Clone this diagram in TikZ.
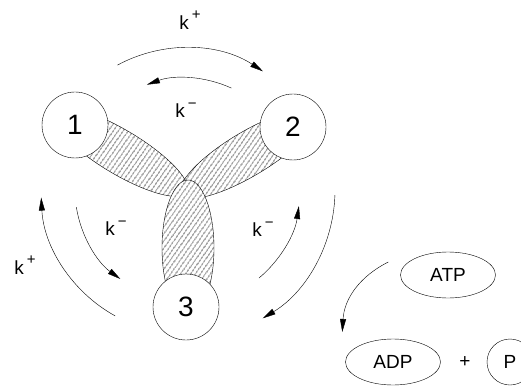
\documentclass[tikz,border=0pt]{standalone}
\usepackage{fontspec}
\setmainfont{Liberation Sans}
\usetikzlibrary{arrows.meta,patterns.meta,shapes.geometric}

% rate constant with a raised sign
\newcommand{\rate}[1]{k\,\raisebox{0.5em}{\fontsize{15}{15}\selectfont #1}}

\begin{document}
\begin{tikzpicture}[x=1pt, y=1pt,
  every node/.style={font=\fontsize{19}{21}\selectfont},
  site/.style={draw, circle, fill=white, minimum size=66pt, inner sep=0pt, font=\fontsize{28}{30}\selectfont},
  lobe/.style={draw, preaction={fill=white}, pattern={Lines[angle=55, distance=4pt, line width=0.8pt]}},
  flow/.style={-{Triangle[length=13pt,width=6pt]}},
  mol/.style={draw, ellipse, minimum width=95pt, minimum height=46pt, inner sep=0pt}]
  \useasboundingbox (0,0) rectangle (521,386);
  \coordinate (c) at (185,196);
  % hatched arms
  \draw[lobe, rotate around={-31:(120,234)}] (120,234) ellipse [x radius=78, y radius=22];
  \draw[lobe, rotate around={31:(248,232)}] (248,232) ellipse [x radius=78, y radius=22];
  \draw[lobe] (188,138) ellipse [x radius=26, y radius=68];
  % binding sites
  \node[site] (s1) at (75,261) {1};
  \node[site] (s2) at (293,259) {2};
  \node[site] (s3) at (186,79) {3};
  % rotation arrows
  \draw[flow] ([shift={(118.4:142)}]c) arc[start angle=118.4, end angle=56.7, radius=142];
  \draw[flow] ([shift={(65.5:112)}]c) arc[start angle=65.5, end angle=109.9, radius=112];
  \draw[flow] ([shift={(241:144)}]c) arc[start angle=241, end angle=183, radius=144];
  \draw[flow] ([shift={(189:110)}]c) arc[start angle=189, end angle=234, radius=110];
  \draw[flow] ([shift={(-50:115)}]c) arc[start angle=-50, end angle=-8, radius=115];
  \draw[flow] ([shift={(-2:150)}]c) arc[start angle=-2, end angle=-58.8, radius=150];
  % rate labels
  \node (kp1) at (190,366) {\rate{+}};
  \node (km1) at (186,276) {\rate{−}};
  \node (km2) at (116,158) {\rate{−}};
  \node (km3) at (263,157) {\rate{−}};
  \node (kp2) at (25,121) {\rate{+}};
  % hydrolysis
  \node[mol] (atp) at (448,111) {ATP};
  \node[mol] (adp) at (393,24) {ADP};
  \node (plus) at (465,24) {+};
  \node[draw, circle, minimum size=46pt, inner sep=0pt] (pi) at (510,24) {P};
  \draw[flow] ([shift={(-12,13)}]atp.west) to[bend right=30] ([shift={(-3,30)}]adp.west);
\end{tikzpicture}
\end{document}
